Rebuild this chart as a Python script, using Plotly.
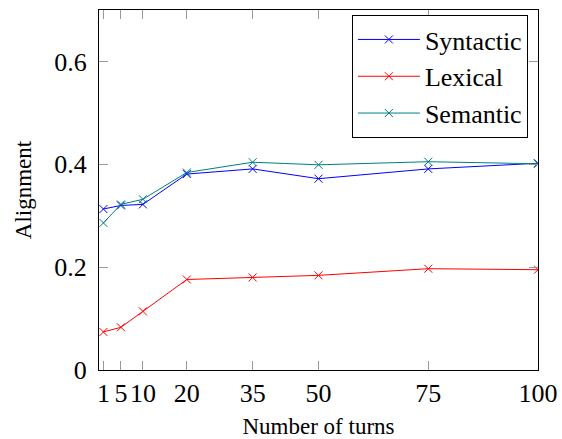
import plotly.graph_objects as go

turns = [1, 5, 10, 20, 35, 50, 75, 100]
syntactic = [0.313, 0.320, 0.322, 0.381, 0.391, 0.372, 0.391, 0.402]
lexical = [0.074, 0.083, 0.114, 0.176, 0.180, 0.184, 0.197, 0.195]
semantic = [0.286, 0.322, 0.332, 0.384, 0.404, 0.399, 0.405, 0.401]
y_ticks = [0, 0.2, 0.4, 0.6]
y_labels = ["0", "0.2", "0.4", "0.6"]

series = [
    ("Syntactic", syntactic, "#0000ff"),
    ("Lexical", lexical, "#ff0000"),
    ("Semantic", semantic, "#008080"),
]

fig = go.Figure()
for name, vals, col in series:
    fig.add_trace(go.Scatter(
        x=turns, y=vals, name=name, mode="lines+markers",
        line=dict(color=col, width=1),
        marker=dict(symbol="x-thin", size=8, line=dict(color=col, width=1)),
    ))

font = "Liberation Serif"
fig.update_layout(
    width=562, height=439,
    margin=dict(l=99, r=24, t=10, b=69, autoexpand=False),
    plot_bgcolor="white", paper_bgcolor="white",
    font=dict(family=font, color="black"),
    showlegend=True,
    legend=dict(
        x=0.977, y=0.986, xanchor="right", yanchor="top",
        bgcolor="white", bordercolor="black", borderwidth=1,
        font=dict(size=26, family=font),
        tracegroupgap=0, itemwidth=62,
    ),
    xaxis=dict(
        range=[0, 100], tickvals=turns, ticktext=[str(t) for t in turns],
        ticks="inside", ticklen=9, tickcolor="#999999",
        showline=True, linecolor="black", linewidth=1, mirror="ticks",
        showgrid=False, zeroline=False, automargin=False,
        tickfont=dict(size=26, family=font),
        title=dict(text="Number of turns", font=dict(size=23, family=font), standoff=10),
    ),
    yaxis=dict(
        range=[0, 0.7], tickvals=y_ticks, ticktext=y_labels,
        ticks="inside", ticklen=9, tickcolor="#999999",
        showline=True, linecolor="black", linewidth=1, mirror="ticks",
        showgrid=False, zeroline=False, automargin=False,
        tickfont=dict(size=26, family=font), ticklabelstandoff=6,
        title=dict(text="Alignment", font=dict(size=23, family=font), standoff=16),
    ),
)

fig.write_html(
    "out.html",
    config={"displayModeBar": False},
    post_script="document.body.style.margin='0';document.body.style.overflow='hidden';",
)
